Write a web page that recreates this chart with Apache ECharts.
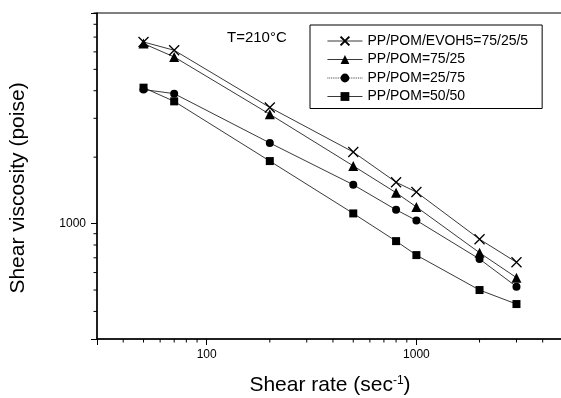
<!DOCTYPE html>
<html><head><meta charset="utf-8">
<script src="https://cdn.jsdelivr.net/npm/echarts@6/dist/echarts.min.js"></script>
<style>html,body{margin:0;padding:0;background:#fff}#c{width:561px;height:398px}</style>
</head><body><div id="c"></div>
<script>
const shearRates = [50, 70, 200, 500, 800, 1000, 2000, 3000];
const seriesNames = ['PP/POM/EVOH5=75/25/5', 'PP/POM=75/25', 'PP/POM=25/75', 'PP/POM=50/50'];
const evoh = [6650, 6100, 3360, 2110, 1540, 1390, 850, 668];
const pp7525 = [6540, 5690, 3130, 1826, 1380, 1190, 738, 569];
const pp2575 = [4050, 3880, 2320, 1500, 1155, 1034, 691, 518];
const pp5050 = [4130, 3580, 1920, 1112, 833, 720, 500, 432];
const xLabelTicks = [100, 1000];
const yLabelTicks = [1000];
const xMinorTicks = [40, 50, 60, 70, 80, 90, 200, 300, 400, 500, 600, 700, 800, 900, 2000, 3000, 4000];
const yMinorTicks = [400, 500, 600, 700, 800, 900, 2000, 3000, 4000, 5000, 6000, 7000, 8000, 9000];
const xMin = 30, xMax = 5000, yMin = 300, yMax = 9000;

const FONT = "'Liberation Sans', Arial, sans-serif";
const chart = echarts.init(document.getElementById('c'), null, {renderer: 'canvas'});

function pairs(vals) { return shearRates.map((x, i) => [x, vals[i]]); }
function labelFmt(list) {
  return v => { const r = Math.round(v); return list.indexOf(r) >= 0 ? String(r) : ''; };
}
const lineStyle = {color: '#222', width: 0.9};
const crossPath = 'path://M0,0L10,10M10,0L0,10';

const minorData = xMinorTicks.map(v => [v, yMin, 0]).concat(yMinorTicks.map(v => [xMin, v, 1]));

chart.setOption({
  animation: false,
  backgroundColor: '#fff',
  grid: {left: 97, top: 13, right: -2, bottom: 59, show: true, borderColor: '#000', borderWidth: 1,
    outerBoundsMode: 'none', containLabel: false},
  xAxis: {
    type: 'log', min: xMin, max: xMax, logBase: 10,
    axisLine: {lineStyle: {color: '#000', width: 1.5}},
    axisTick: {show: true, inside: false, length: 6, lineStyle: {color: '#000', width: 1}},
    minorTick: {show: false},
    splitLine: {show: false},
    axisLabel: {formatter: labelFmt(xLabelTicks), color: '#000', fontSize: 12, fontFamily: FONT, margin: 10}
  },
  yAxis: {
    type: 'log', min: yMin, max: yMax, logBase: 10,
    axisLine: {lineStyle: {color: '#000', width: 1.5}},
    axisTick: {show: true, inside: false, length: 6, lineStyle: {color: '#000', width: 1}},
    minorTick: {show: false},
    splitLine: {show: false},
    axisLabel: {formatter: labelFmt(yLabelTicks), color: '#000', fontSize: 12, fontFamily: FONT, margin: 11}
  },
  legend: {
    orient: 'vertical', left: 310, top: 25,
    padding: [9, 14, 5, 17],
    itemWidth: 35, itemHeight: 11, itemGap: 4.5,
    borderColor: '#000', borderWidth: 1, backgroundColor: '#fff',
    textStyle: {color: '#000', fontSize: 14, fontFamily: FONT},
    data: [
      {name: seriesNames[0], lineStyle: {width: 0.9}},
      {name: seriesNames[1], lineStyle: {width: 0.9}},
      {name: seriesNames[2], lineStyle: {type: 'dotted', width: 0.9}},
      {name: seriesNames[3], lineStyle: {width: 0.9}}
    ]
  },
  graphic: [
    {type: 'text', left: 227, top: 30, style: {text: 'T=210°C', fill: '#000', font: '15px ' + FONT}},
    {type: 'text', x: 330, y: 385, style: {
      text: '{a|Shear rate (sec}{s|-1}{a|)}', fill: '#000', align: 'center', verticalAlign: 'middle',
      rich: {a: {fontSize: 21, fontFamily: FONT, fill: '#000'}, s: {fontSize: 12, fontFamily: FONT, fill: '#000', verticalAlign: 'top'}}
    }},
    {type: 'text', x: 18, y: 188, rotation: Math.PI / 2, style: {
      text: 'Shear viscosity (poise)', fill: '#000', align: 'center', verticalAlign: 'middle', font: '21px ' + FONT
    }}
  ],
  series: [
    {name: seriesNames[0], type: 'line', data: pairs(evoh), symbol: crossPath, symbolSize: 10,
      lineStyle: lineStyle, itemStyle: {color: '#000', borderColor: '#000', borderWidth: 1.3}},
    {name: seriesNames[1], type: 'line', data: pairs(pp7525), symbol: 'triangle', symbolSize: 10,
      lineStyle: lineStyle, itemStyle: {color: '#000'}},
    {name: seriesNames[2], type: 'line', data: pairs(pp2575), symbol: 'circle', symbolSize: 8,
      lineStyle: lineStyle, itemStyle: {color: '#000'}},
    {name: seriesNames[3], type: 'line', data: pairs(pp5050), symbol: 'rect', symbolSize: 8,
      lineStyle: lineStyle, itemStyle: {color: '#000'}},
    {name: 'minorTicks', type: 'custom', silent: true, data: minorData, encode: {x: 0, y: 1},
      renderItem: function (params, api) {
        const p = api.coord([api.value(0), api.value(1)]);
        const f = api.value(2);
        const shape = f === 0 ? {x1: p[0], y1: p[1], x2: p[0], y2: p[1] + 3.5}
                              : {x1: p[0] - 3.5, y1: p[1], x2: p[0], y2: p[1]};
        return {type: 'line', shape: shape, style: {stroke: '#000', lineWidth: 1}};
      }}
  ]
});
</script>
</body></html>
